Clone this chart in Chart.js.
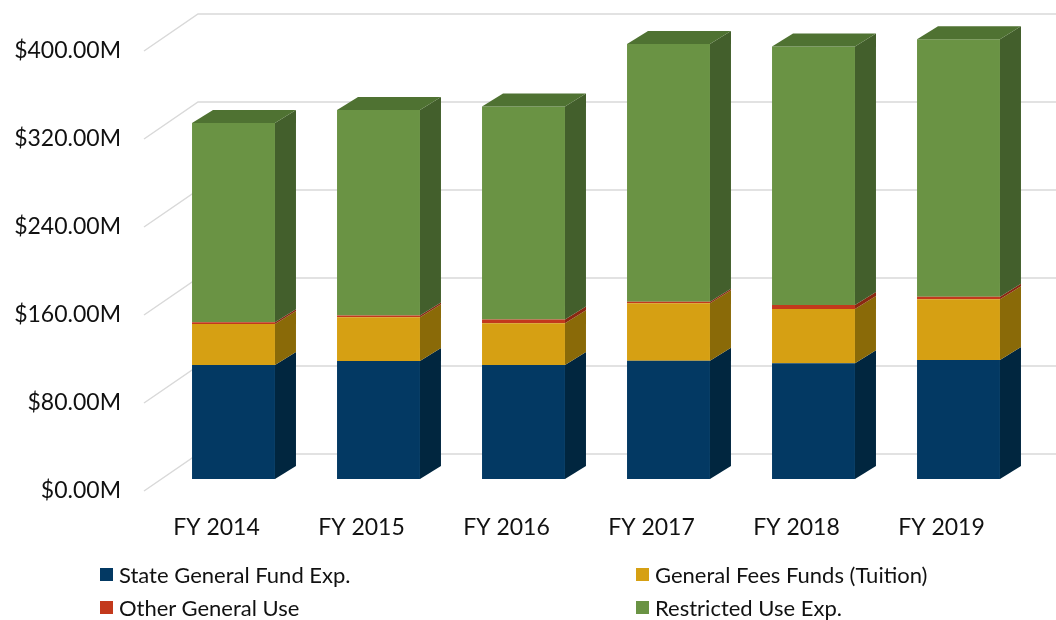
<!DOCTYPE html>
<html>
<head>
<meta charset="utf-8">
<script src="https://cdn.jsdelivr.net/npm/chart.js@4.4.1/dist/chart.umd.min.js"></script>
<style>
  body { margin: 0; background: #fff; }
  #wrap { position: relative; width: 1056px; height: 620px; }
  #legend { position: absolute; left: 0; top: 0; width: 1056px; height: 620px; pointer-events: none;
            font-family: Lato, "Open Sans", sans-serif; font-size: 22px; color: #111; }
  .item { position: absolute; display: flex; align-items: center; height: 24px; white-space: nowrap; }
  .box { width: 13px; height: 13px; margin-right: 6px; }
</style>
</head>
<body>
<div id="wrap">
  <canvas id="chart" width="1056" height="620"></canvas>
  <div id="legend"></div>
</div>
<script>
var categories = ['FY 2014', 'FY 2015', 'FY 2016', 'FY 2017', 'FY 2018', 'FY 2019'];
var stateGeneralFund = [103.6, 107.3, 103.6, 107.5, 105.2, 108.2];
var generalFees = [37.4, 39.7, 37.9, 52.2, 49.3, 55.2];
var otherGeneral = [1.5, 1.6, 3.6, 1.5, 3.6, 2.3];
var restrictedUse = [181.1, 186.9, 193.5, 234.3, 235.1, 234.0];

var frontColors = ['#033963', '#d6a013', '#c3391c', '#6a9344'];
var sideColors = ['#01263f', '#8a6a08', '#8a2812', '#435f2c'];
var topColor = '#4f7232';

// oblique 3D offsets
var bar3d = { dx: 21, dy: -13 };
var floorFront = { dx: -17, dy: 12 };
var floorBack = { dx: 37, dy: -25 };

function poly(ctx, pts, color){
    ctx.fillStyle = color;
    ctx.beginPath();
    ctx.moveTo(pts[0][0], pts[0][1]);
    for(var k = 1; k < pts.length; k++) ctx.lineTo(pts[k][0], pts[k][1]);
    ctx.closePath();
    ctx.fill();
}

var threeD = {
    id: 'threeD',
    beforeDatasetsDraw: function(chart){
        var ctx = chart.ctx, area = chart.chartArea, y = chart.scales.y;
        ctx.save();
        ctx.strokeStyle = '#d9d9d9';
        ctx.lineWidth = 1.5;
        y.ticks.forEach(function(t){
            var py = y.getPixelForValue(t.value);
            ctx.beginPath();
            ctx.moveTo(area.left + floorFront.dx, py + floorFront.dy);
            ctx.lineTo(area.left + floorBack.dx, py + floorBack.dy);
            ctx.lineTo(chart.width, py + floorBack.dy);
            ctx.stroke();
        });
        ctx.restore();
    },
    afterDatasetsDraw: function(chart){
        var ctx = chart.ctx;
        var last = chart.data.datasets.length - 1;
        ctx.save();
        chart.data.datasets.forEach(function(ds, di){
            var meta = chart.getDatasetMeta(di);
            meta.data.forEach(function(bar){
                var p = bar.getProps(['x', 'y', 'base', 'width'], true);
                var xl = p.x - p.width / 2, xr = p.x + p.width / 2;
                poly(ctx, [[xr, p.y], [xr + bar3d.dx, p.y + bar3d.dy],
                           [xr + bar3d.dx, p.base + bar3d.dy], [xr, p.base]], sideColors[di]);
                if(di === last){
                    poly(ctx, [[xl, p.y], [xl + bar3d.dx, p.y + bar3d.dy],
                               [xr + bar3d.dx, p.y + bar3d.dy], [xr, p.y]], topColor);
                }
            });
        });
        ctx.restore();
    }
};

var chart = new Chart(document.getElementById('chart'), {
    type: 'bar',
    data: {
        labels: categories,
        datasets: [
            { label: 'State General Fund Exp.', data: stateGeneralFund, backgroundColor: frontColors[0] },
            { label: 'General Fees Funds (Tuition)', data: generalFees, backgroundColor: frontColors[1] },
            { label: 'Other General Use', data: otherGeneral, backgroundColor: frontColors[2] },
            { label: 'Restricted Use Exp.', data: restrictedUse, backgroundColor: frontColors[3] }
        ]
    },
    plugins: [threeD],
    options: {
        responsive: false,
        animation: false,
        layout: { padding: { left: 11, right: 25, top: 39, bottom: 71 } },
        datasets: { bar: { categoryPercentage: 0.572, barPercentage: 1, borderWidth: 0 } },
        plugins: { legend: { display: false }, tooltip: { enabled: false } },
        scales: {
            x: {
                stacked: true,
                grid: { display: false, drawTicks: false },
                border: { display: false },
                ticks: { labelOffset: -17, padding: 35, color: '#111',
                         font: { family: 'Lato', size: 23 } },
                afterFit: function(s){ s.height = 70; s.paddingLeft = 0; s.paddingRight = 0; }
            },
            y: {
                stacked: true,
                min: 0,
                max: 400,
                grid: { display: false, drawTicks: false },
                border: { display: false },
                ticks: {
                    stepSize: 80,
                    labelOffset: 12,
                    padding: 40,
                    color: '#111',
                    font: { family: 'Lato', size: 23 },
                    callback: function(v){ return '$' + v.toFixed(2) + 'M'; }
                },
                afterFit: function(s){ s.width = 150; s.paddingTop = 0; s.paddingBottom = 0; }
            }
        }
    }
});

// legend in two columns, built from the chart datasets
var legendPos = [[100, 562], [636, 562], [100, 595], [636, 595]];
var legendEl = document.getElementById('legend');
chart.data.datasets.forEach(function(ds, i){
    var item = document.createElement('div');
    item.className = 'item';
    item.style.left = legendPos[i][0] + 'px';
    item.style.top = legendPos[i][1] + 'px';
    var box = document.createElement('span');
    box.className = 'box';
    box.style.background = ds.backgroundColor;
    var txt = document.createElement('span');
    txt.textContent = ds.label;
    item.appendChild(box);
    item.appendChild(txt);
    legendEl.appendChild(item);
});
</script>
</body>
</html>
